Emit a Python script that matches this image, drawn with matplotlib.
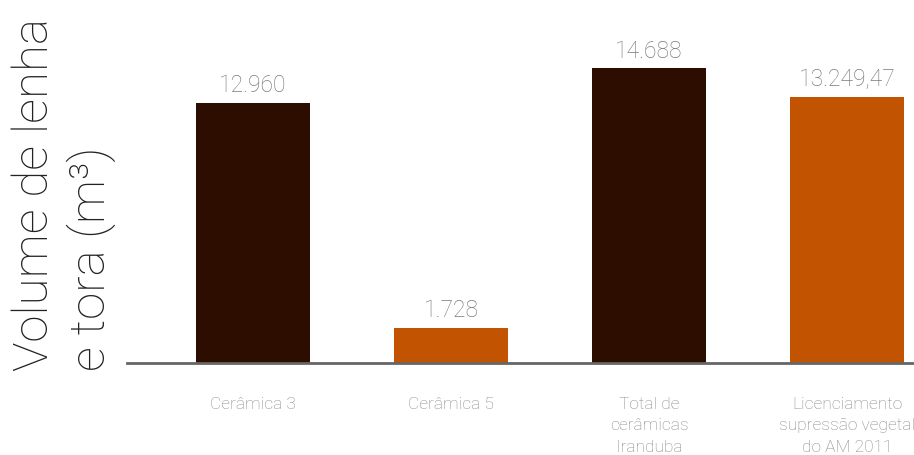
import matplotlib
matplotlib.use("Agg")
import matplotlib.pyplot as plt

categories = ["Cerâmica 3", "Cerâmica 5", "Total de\ncerâmicas\nIranduba",
              "Licenciamento\nsupressão vegetal\ndo AM 2011"]
volumes = [12960, 1728, 14688, 13249.47]
value_labels = ["12.960", "1.728", "14.688", "13.249,47"]
bar_colors = ["#2c0d00", "#c25300", "#2c0d00", "#c25300"]

FONT = "Roboto"
THIN = 100

fig = plt.figure(figsize=(9.14, 4.56), dpi=100)
ax = fig.add_axes([127 / 914, (456 - 363.5) / 456, 1 - 127 / 914, 363.5 / 456])

x = range(len(categories))
ax.bar(x, volumes, width=0.576, color=bar_colors, zorder=2)

for xi, v, lab in zip(x, volumes, value_labels):
    ax.annotate(lab, (xi, v), xytext=(0, 8.5), textcoords="offset points",
                ha="center", va="baseline", fontsize=16.5, color="#7a7a7a",
                family=FONT, fontweight=THIN)

ax.set_xlim(-0.636, 3.338)
ax.set_ylim(0, 18150)

ax.set_xticks(list(x))
ax.set_xticklabels(categories, family=FONT, fontweight=THIN, fontsize=12.5,
                   color="#888888", linespacing=1.55)
ax.tick_params(axis="x", length=0, pad=24)
ax.set_yticks([])

for side in ["top", "right", "left"]:
    ax.spines[side].set_visible(False)
ax.spines["bottom"].set_color("#666666")
ax.spines["bottom"].set_linewidth(2)

fig.text(12 / 914, (456 - 371) / 456, "Volume de lenha\ne tora (m³)",
         rotation=90, ha="left", va="bottom", multialignment="left",
         fontsize=35.5, family=FONT, fontweight=THIN, color="#222222",
         linespacing=1.2)

fig.savefig("out.png", dpi=100)
